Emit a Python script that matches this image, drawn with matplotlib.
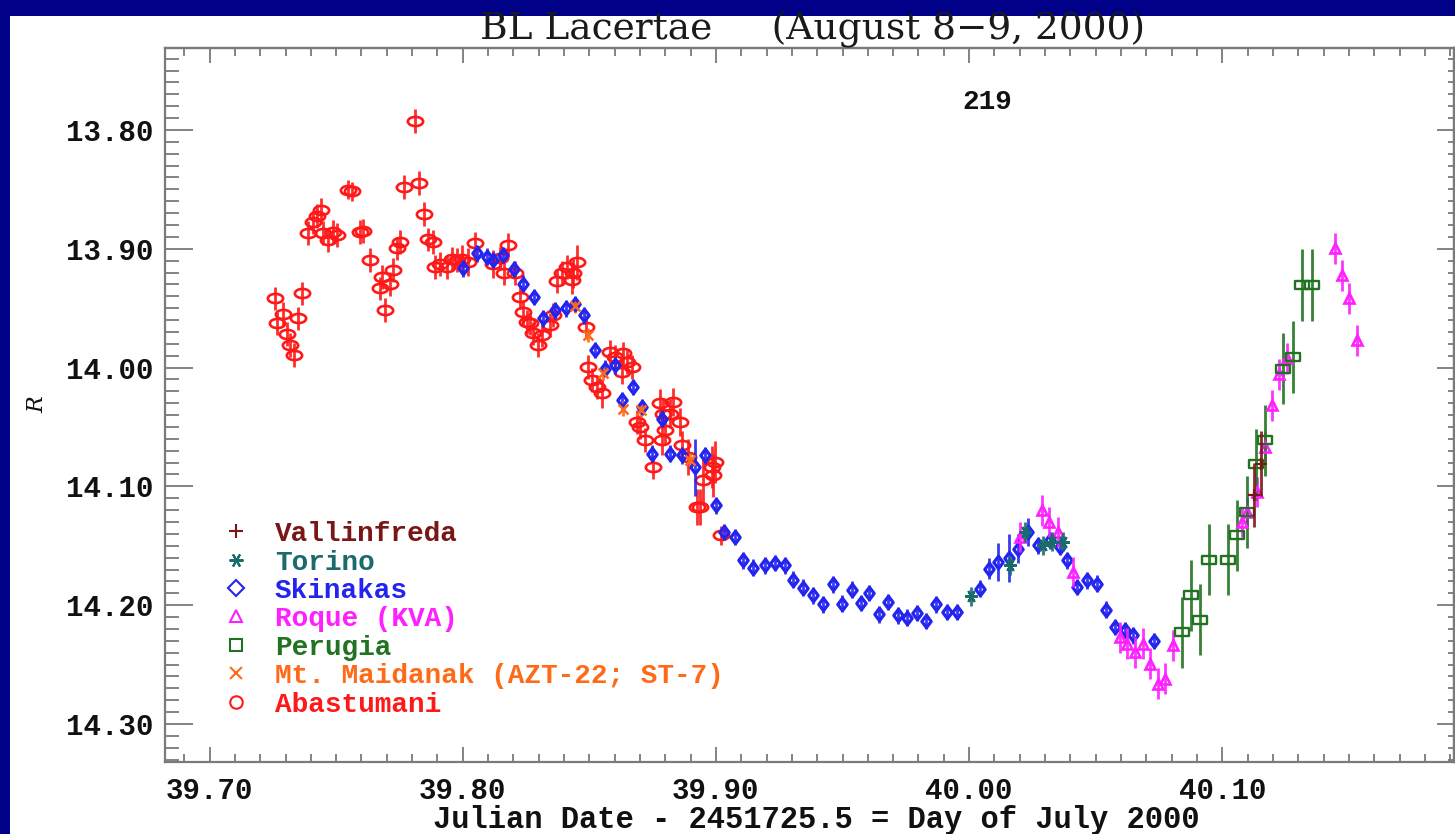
import numpy as np
import matplotlib
matplotlib.use("Agg")
import matplotlib.pyplot as plt
from matplotlib.path import Path
from matplotlib.patches import Rectangle
from matplotlib.transforms import Affine2D
from matplotlib.ticker import MultipleLocator, FormatStrFormatter

# ---------------- data: Julian Date - 2451725.5, R magnitude, error ----------------
abast_x = [39.7259, 39.7268, 39.7291, 39.7307, 39.7318, 39.7334, 39.7351, 39.7364,
           39.7390, 39.7410, 39.7426, 39.7439, 39.7449, 39.7469, 39.7489, 39.7502,
           39.7548, 39.7562, 39.7594, 39.7607, 39.7634, 39.7673, 39.7680, 39.7693,
           39.7713, 39.7726, 39.7739, 39.7752, 39.7768, 39.7812, 39.7829, 39.7847,
           39.7864, 39.7882, 39.7891, 39.7910, 39.7939, 39.7957, 39.7976, 39.7996,
           39.8022, 39.8049, 39.8121, 39.8147, 39.8163, 39.8180, 39.8207, 39.8226,
           39.8239, 39.8253, 39.8266, 39.8279, 39.8299, 39.8312, 39.8345, 39.8358,
           39.8374, 39.8391, 39.8411, 39.8431, 39.8437, 39.8453, 39.8487, 39.8496,
           39.8509, 39.8529, 39.8549, 39.8582, 39.8601, 39.8628, 39.8634, 39.8648,
           39.8667, 39.8687, 39.8700, 39.8720, 39.8753, 39.8779, 39.8790, 39.8799,
           39.8786, 39.8819, 39.8832, 39.8858, 39.8865, 39.8891, 39.8924, 39.8937,
           39.8950, 39.8983, 39.8996, 39.8990, 39.9019]
abast_y = [13.9418, 13.9628, 13.9550, 13.9719, 13.9811, 13.9896, 13.9586, 13.9376,
           13.8865, 13.8778, 13.8722, 13.8674, 13.8870, 13.8927, 13.8857, 13.8885,
           13.8505, 13.8514, 13.8857, 13.8848, 13.9095, 13.9334, 13.9236, 13.9516,
           13.9297, 13.9179, 13.8997, 13.8941, 13.8478, 13.7922, 13.8444, 13.8708,
           13.8921, 13.8941, 13.9152, 13.9129, 13.9152, 13.9089, 13.9095, 13.9089,
           13.9110, 13.8955, 13.9129, 13.9081, 13.9202, 13.8969, 13.9207, 13.9404,
           13.9531, 13.9615, 13.9628, 13.9713, 13.9811, 13.9727, 13.9643, 13.9559,
           13.9270, 13.9207, 13.9152, 13.9264, 13.9207, 13.9115, 13.9657, 13.9994,
           14.0106, 14.0163, 14.0218, 13.9868, 13.9910, 14.0036, 13.9881, 13.9952,
           13.9994, 14.0457, 14.0500, 14.0612, 14.0837, 14.0302, 14.0387, 14.0527,
           14.0612, 14.0387, 14.0289, 14.0457, 14.0654, 14.0752, 14.1174, 14.1174,
           14.0949, 14.0837, 14.0794, 14.0907, 14.1412]
abast_e = [0.010] * 16 + [0.008, 0.008] + [0.010] * 21 + [0.012, 0.012, 0.010, 0.012] \
          + [0.010] * 16 + [0.012, 0.012, 0.015] + [0.010] * 4 + [0.012] \
          + [0.010] * 10 + [0.012] * 8 + [0.015, 0.015, 0.015, 0.020, 0.018, 0.018,
                                          0.018, 0.008]

skin_x = [39.8002, 39.8055, 39.8095, 39.8121, 39.8160, 39.8203, 39.8239, 39.8282,
          39.8318, 39.8365, 39.8406, 39.8444, 39.8478, 39.8521, 39.8562, 39.8602,
          39.8628, 39.8674, 39.8707, 39.8746, 39.8786, 39.8819, 39.8865, 39.8917,
          39.8957, 39.9000, 39.9032, 39.9075, 39.9108, 39.9148, 39.9194, 39.9233,
          39.9273, 39.9306, 39.9343, 39.9385, 39.9424, 39.9461, 39.9497, 39.9536,
          39.9572, 39.9606, 39.9645, 39.9681, 39.9720, 39.9754, 39.9793, 39.9830,
          39.9869, 39.9911, 39.9951, 40.0043, 40.0080, 40.0115, 40.0158, 40.0194,
          40.0234, 40.0273, 40.0320, 40.0359, 40.0385, 40.0425, 40.0464, 40.0504,
          40.0541, 40.0576, 40.0616, 40.0649, 40.0730]
skin_y = [13.9165, 13.9039, 13.9067, 13.9095, 13.9053, 13.9171, 13.9293, 13.9407,
          13.9586, 13.9519, 13.9502, 13.9466, 13.9559, 13.9853, 14.0008, 13.9980,
          14.0275, 14.0163, 14.0331, 14.0724, 14.0429, 14.0724, 14.0738, 14.0837,
          14.0738, 14.1159, 14.1384, 14.1426, 14.1622, 14.1684, 14.1665, 14.1645,
          14.1665, 14.1785, 14.1853, 14.1917, 14.1993, 14.1825, 14.1987, 14.1869,
          14.1982, 14.1898, 14.2078, 14.1974, 14.2086, 14.2105, 14.2067, 14.2134,
          14.1993, 14.2058, 14.2058, 14.1861, 14.1693, 14.1637, 14.1601, 14.1524,
          14.1384, 14.1496, 14.1454, 14.1510, 14.1623, 14.1847, 14.1791, 14.1819,
          14.2038, 14.2184, 14.2212, 14.2254, 14.2302]
skin_e = [0.007] * 23 + [0.024] + [0.007] * 25 + [0.007, 0.007, 0.007, 0.009, 0.016,
                                                0.020, 0.012, 0.012] + [0.007] * 12

torino_x = [40.0007, 40.0161, 40.0220, 40.0292, 40.0326, 40.0372]
torino_y = [14.1926, 14.1665, 14.1384, 14.1496, 14.1468, 14.1468]
torino_e = [0.008, 0.008, 0.008, 0.008, 0.008, 0.008]

roque_x = [40.0201, 40.0287, 40.0317, 40.0352, 40.0412, 40.0596, 40.0622, 40.0655,
           40.0688, 40.0714, 40.0747, 40.0774, 40.0804, 40.1077, 40.1096, 40.1136,
           40.1169, 40.1195, 40.1225, 40.1254, 40.1445, 40.1472, 40.1502, 40.1533]
roque_y = [14.1426, 14.1201, 14.1300, 14.1384, 14.1721, 14.2269, 14.2324, 14.2395,
           14.2324, 14.2493, 14.2661, 14.2619, 14.2339, 14.1300, 14.1216, 14.1047,
           14.0668, 14.0317, 14.0056, 13.9923, 13.8997, 13.9222, 13.9418, 13.9769]
roque_e = [0.013] * 24

perugia_x = [40.0840, 40.0875, 40.0912, 40.0949, 40.1024, 40.1059, 40.1096, 40.1133,
             40.1169, 40.1241, 40.1280, 40.1313, 40.1353]
perugia_y = [14.2227, 14.1917, 14.2122, 14.1617, 14.1617, 14.1412, 14.1216, 14.0814,
             14.0612, 14.0008, 13.9910, 13.9306, 13.9306]
perugia_e = [0.030] * 13

maidanak_x = [39.8444, 39.8496, 39.8554, 39.8634, 39.8704, 39.8898]
maidanak_y = [13.9480, 13.9727, 14.0047, 14.0345, 14.0359, 14.0780]
maidanak_e = [0.006] * 6

vall_x = [40.1126, 40.1154]
vall_y = [14.1075, 14.0808]
vall_e = [0.027, 0.027]

names = ["Vallinfreda", "Torino", "Skinakas", "Roque (KVA)", "Perugia",
         "Mt. Maidanak (AZT-22; ST-7)", "Abastumani"]
colors = ["#7a1616", "#1a6b6b", "#2424f0", "#ff20ff", "#217321", "#ff6a18", "#ff1818"]

x_major = [39.70, 39.80, 39.90, 40.00, 40.10]
y_major = [13.80, 13.90, 14.00, 14.10, 14.20, 14.30]

# ---------------- marker shapes ----------------
ellipse = Path.unit_circle().transformed(Affine2D().scale(1.0, 0.6))
diamond = Path([(0, 1), (0.75, 0), (0, -1), (-0.75, 0), (0, 1)],
               [Path.MOVETO, Path.LINETO, Path.LINETO, Path.LINETO, Path.CLOSEPOLY])
wide_sq = Path([(-1, -0.65), (1, -0.65), (1, 0.65), (-1, 0.65), (-1, -0.65)],
               [Path.MOVETO, Path.LINETO, Path.LINETO, Path.LINETO, Path.CLOSEPOLY])
asterisk = (6, 2, 90)

W, H = 1455, 834
fig = plt.figure(figsize=(W / 100, H / 100), dpi=100, facecolor="#000088")
fig.patches.append(Rectangle((10 / W, 0), 1, 1 - 16 / H, transform=fig.transFigure,
                             facecolor="white", edgecolor="none", zorder=-5))

ax = fig.add_axes([165 / W, 1 - 762 / H, 1289 / W, 714 / H])
ax.set_facecolor("white")
ax.set_xlim(39.6824, 40.1915)
ax.set_ylim(14.332, 13.731)

gray = "#7a7a7a"
for s in ax.spines.values():
    s.set_color(gray)
    s.set_linewidth(1.6)


def series(x, y, e, c, marker, ms, mew=1.7, z=3):
    ax.errorbar(x, y, yerr=e, fmt="none", ecolor=c, elinewidth=2.0, capsize=0,
                zorder=z, alpha=0.9)
    ax.plot(x, y, linestyle="none", marker=marker, markersize=ms, markerfacecolor="none",
            markeredgecolor=c, markeredgewidth=mew, zorder=z + 0.5)


series(abast_x, abast_y, abast_e, colors[6], ellipse, 11, mew=1.9)
series(skin_x, skin_y, skin_e, colors[2], diamond, 9, mew=2.3, z=4)
series(maidanak_x, maidanak_y, maidanak_e, colors[5], "x", 7, mew=1.8, z=4)
series(roque_x, roque_y, roque_e, colors[3], "^", 7.5, mew=1.9, z=5)
series(perugia_x, perugia_y, perugia_e, colors[4], wide_sq, 9.5, mew=1.7, z=5)
series(torino_x, torino_y, torino_e, colors[1], asterisk, 9, mew=1.6, z=6)
series(vall_x, vall_y, vall_e, colors[0], "+", 9, mew=1.6, z=6)

# ---------------- axes ticks ----------------
tick_font = dict(family="Liberation Mono", weight="bold", size=21)
ax.set_xticks(x_major)
ax.set_yticks(y_major)
ax.xaxis.set_minor_locator(MultipleLocator(0.01))
ax.yaxis.set_minor_locator(MultipleLocator(0.01))
ax.xaxis.set_major_formatter(FormatStrFormatter("%.2f"))
ax.yaxis.set_major_formatter(FormatStrFormatter("%.2f"))
ax.tick_params(axis="x", which="major", direction="in", length=11, width=1.3,
               color=gray, pad=11)
ax.tick_params(axis="x", which="minor", direction="in", length=6, width=1.3, color=gray)
ax.tick_params(axis="y", which="major", direction="in", length=20, width=1.3,
               color=gray, pad=8)
ax.tick_params(axis="y", which="minor", direction="in", length=10, width=1.3, color=gray)
for lab in ax.get_xticklabels() + ax.get_yticklabels():
    lab.set_fontproperties(tick_font)
    lab.set_color("#111111")

top = ax.secondary_xaxis("top")
top.set_xticks(x_major)
top.xaxis.set_minor_locator(MultipleLocator(0.01))
top.tick_params(which="major", direction="in", length=11, width=1.3, color=gray,
                labeltop=False)
top.tick_params(which="minor", direction="in", length=6, width=1.3, color=gray)
top.spines["top"].set_color(gray)
top.spines["top"].set_linewidth(1.6)

right = ax.secondary_yaxis("right")
right.set_yticks(y_major)
right.yaxis.set_minor_locator(MultipleLocator(0.01))
right.tick_params(which="major", direction="in", length=12, width=1.3, color=gray,
                  labelright=False)
right.tick_params(which="minor", direction="in", length=4, width=1.3, color=gray)
right.spines["right"].set_color(gray)
right.spines["right"].set_linewidth(1.6)

# ---------------- legend ----------------
leg_markers = ["+", asterisk, "D", "^", "s", "x", "o"]
leg_ms = [10, 10, 8, 9, 9, 9, 9]
y0, dy = 0.3235, 0.0399
for i, (nm, c, mk, ms) in enumerate(zip(names, colors, leg_markers, leg_ms)):
    yy = y0 - i * dy
    ax.plot([0.0551], [yy], transform=ax.transAxes, linestyle="none", marker=mk,
            markersize=ms, markerfacecolor="none", markeredgecolor=c,
            markeredgewidth=1.5, clip_on=False, zorder=8)
    ax.text(0.0853, yy, nm, transform=ax.transAxes, ha="left", va="center_baseline",
            color=c, fontfamily="Liberation Mono", fontweight="bold", fontsize=20,
            zorder=8)

ax.text(0.638, 0.9244, "219", transform=ax.transAxes, ha="center", va="center",
        color="#111111", fontfamily="Liberation Mono", fontweight="bold", fontsize=20)

# ---------------- titles ----------------
fig.text(813 / W, 1 - 30 / H, "BL Lacertae     (August 8\u22129, 2000)", ha="center",
         va="center", fontfamily="DejaVu Serif", fontsize=27, color="#1a1a1a")
fig.text(816 / W, 1 - 820 / H, "Julian Date - 2451725.5 = Day of July 2000",
         ha="center", va="center", fontfamily="Liberation Mono", fontweight="bold",
         fontsize=22, color="#111111")
fig.text(37 / W, 1 - 405 / H, "R", rotation=90, ha="center", va="center",
         fontfamily="DejaVu Serif", style="italic", fontsize=16, color="#111111")

fig.savefig("out.png", dpi=100, facecolor=fig.get_facecolor())
